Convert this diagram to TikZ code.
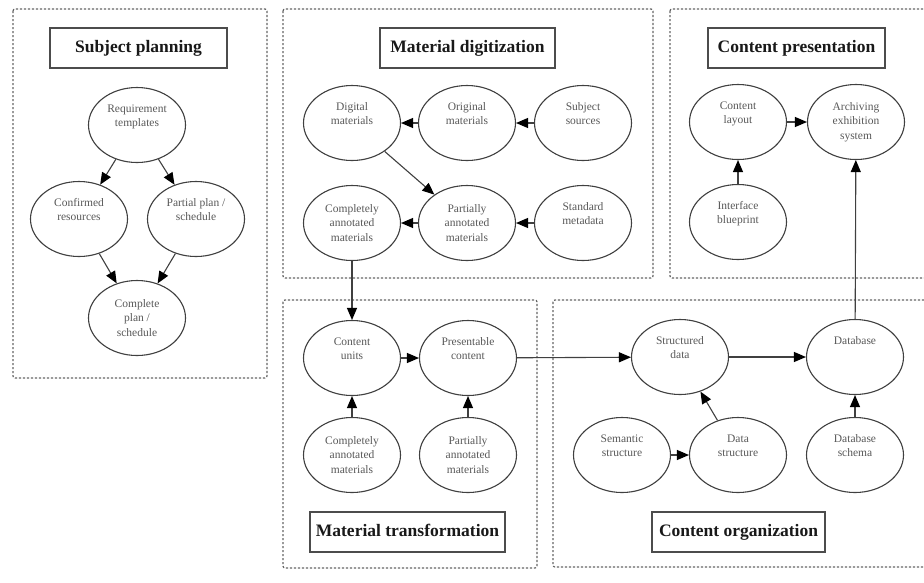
\documentclass[tikz,border=0pt]{standalone}
\usepackage{fontspec}
\setmainfont{Liberation Serif}
\usetikzlibrary{arrows.meta,shapes.geometric}
\begin{document}
\begin{tikzpicture}[x=1pt,y=-1pt,
  cl/.style={draw=black!60,line width=1.2pt,dash pattern=on 2.2pt off 1.8pt,rounded corners=2pt},
  ttl/.style={rectangle,draw=black!70,line width=1.2pt,minimum height=40pt,inner sep=0pt,
    font=\fontsize{17.5}{20}\selectfont\bfseries,text=black!90},
  nd/.style={ellipse,draw=black!75,line width=1.1pt,minimum width=97pt,minimum height=75pt,
    inner sep=0pt,align=center,text=black!65,font=\fontsize{11.5}{14.5}\selectfont},
  ar/.style={draw=black!75,line width=1.1pt,-{Triangle[length=12pt,width=10pt,color=black]}}
]
\useasboundingbox (0,0) rectangle (924,582);
\clip (0,0) rectangle (924,582);
\fill[white] (0,0) rectangle (924,582);

% clusters
\draw[cl] (13,9) rectangle (267,378);
\draw[cl] (283,9) rectangle (653,278);
\draw[cl] (670,9) rectangle (940,278);
\draw[cl] (283,300) rectangle (537,568);
\draw[cl] (553,300) rectangle (940,567);

% titles
\node[ttl,minimum width=177pt] (t1) at (138.5,48) {\raisebox{3pt}{Subject planning}};
\node[ttl,minimum width=175pt] (t2) at (467.5,48) {\raisebox{3pt}{Material digitization}};
\node[ttl,minimum width=177pt] (t3) at (796.5,48) {\raisebox{3pt}{Content presentation}};
\node[ttl,minimum width=195pt] (t4) at (407.5,532) {\raisebox{3pt}{Material transformation}};
\node[ttl,minimum width=173pt] (t5) at (738.5,532) {\raisebox{3pt}{Content organization}};

% Subject planning
\node[nd] (req)  at (137,125) {Requirement\\templates\\\strut};
\node[nd] (conf) at (79,219)  {Confirmed\\resources\\\strut};
\node[nd] (part) at (196,219) {Partial plan /\\schedule\\\strut};
\node[nd] (comp) at (137,318) {Complete\\plan /\\schedule};

% Material digitization
\node[nd] (dig)  at (352,123) {Digital\\materials\\\strut};
\node[nd] (orig) at (467,123) {Original\\materials\\\strut};
\node[nd] (subj) at (583,123) {Subject\\sources\\\strut};
\node[nd] (cann) at (352,223) {Completely\\annotated\\materials};
\node[nd] (pann) at (467,223) {Partially\\annotated\\materials};
\node[nd] (std)  at (583,223) {Standard\\metadata\\\strut};

% Content presentation
\node[nd] (lay)  at (738,122) {Content\\layout\\\strut};
\node[nd] (arch) at (856,122) {Archiving\\exhibition\\system};
\node[nd] (ifc)  at (738,222) {Interface\\blueprint\\\strut};

% Material transformation
\node[nd] (cu)    at (352,358) {Content\\units\\\strut};
\node[nd] (pres)  at (468,358) {Presentable\\content\\\strut};
\node[nd] (cann2) at (352,455) {Completely\\annotated\\materials};
\node[nd] (pann2) at (468,455) {Partially\\annotated\\materials};

% Content organization
\node[nd] (sd)   at (680,357) {Structured\\data\\\strut};
\node[nd] (db)   at (855,357) {Database\\\strut\\\strut};
\node[nd] (sem)  at (622,455) {Semantic\\structure\\\strut};
\node[nd] (ds)   at (738,455) {Data\\structure\\\strut};
\node[nd] (sch)  at (855,455) {Database\\schema\\\strut};

% edges
\draw[ar] (req) -- (conf);
\draw[ar] (req) -- (part);
\draw[ar] (conf) -- (comp);
\draw[ar] (part) -- (comp);

\draw[ar] (orig) -- (dig);
\draw[ar] (subj) -- (orig);
\draw[ar] (dig) -- (pann);
\draw[ar] (pann) -- (cann);
\draw[ar] (std) -- (pann);

\draw[ar] (cann) -- (cu);

\draw[ar] (lay) -- (arch);
\draw[ar] (ifc) -- (lay);

\draw[ar] (cu) -- (pres);
\draw[ar] (cann2) -- (cu);
\draw[ar] (pann2) -- (pres);

\draw[ar] (pres) -- (sd);

\draw[ar] (sd) -- (db);
\draw[ar] (ds) -- (sd);
\draw[ar] (sem) -- (ds);
\draw[ar] (sch) -- (db);

\draw[ar] (db) -- (arch);
\end{tikzpicture}
\end{document}
